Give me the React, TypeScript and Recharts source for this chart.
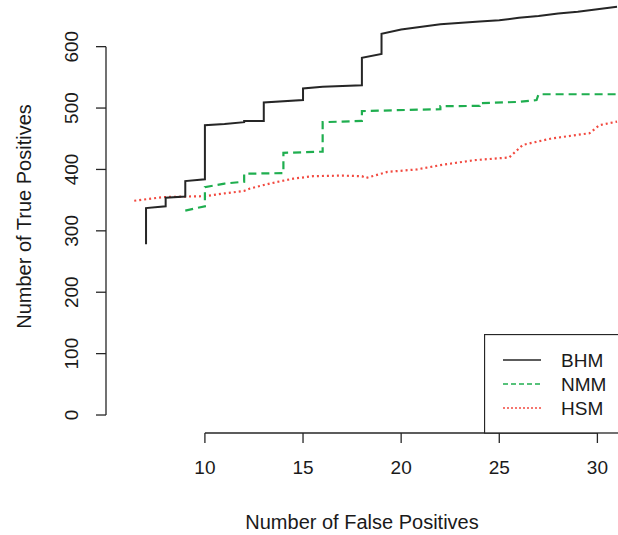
import React from 'react';
import {
  LineChart,
  Line,
  XAxis,
  YAxis,
  ReferenceLine,
  Legend,
  Label,
} from 'recharts';

// false positives (x) / true positives (y)
const bhmX = [7, 7, 8, 8, 9, 9, 10, 10, 11, 12, 12, 13, 13, 15, 15, 16, 18, 18, 19, 19, 20, 22, 24, 25, 26, 27, 28, 29, 30, 31];
const bhmY = [278, 337, 340, 354, 356, 381, 384, 472, 474, 477, 479, 479, 509, 513, 532, 534.5, 537, 582, 588, 621, 628, 636.5, 641, 643, 647, 650, 654, 657, 661, 665];

const nmmX = [9, 10, 10, 11, 12, 12, 14, 14, 16, 16, 17, 18, 18, 21, 22, 22, 24, 24, 26, 26.9, 27, 31];
const nmmY = [333, 340, 371, 377, 380, 393, 394, 427, 429, 477, 478, 479, 495, 497.5, 498, 503, 503.5, 508, 510, 513, 522.5, 522.5];

const hsmX = [6.4, 7.9, 10, 11, 12, 12.3, 13.3, 14.5, 15.5, 17, 18, 18.2, 19.3, 20.8, 22, 23.7, 25.5, 26.2, 27.6, 28.9, 29.6, 30.1, 31];
const hsmY = [349, 355, 356.5, 361, 365, 369, 377, 385, 389, 390, 389, 386, 396, 400, 407, 415, 419.5, 440, 450, 456, 459, 472, 478];

const xTicks = [10, 15, 20, 25, 30];
const yTicks = [0, 100, 200, 300, 400, 500, 600];

const seriesNames = ['BHM', 'NMM', 'HSM'];

const zip = (xs: number[], ys: number[]) => xs.map((x, i) => ({ x, y: ys[i] }));

const bhmData = zip(bhmX, bhmY);
const nmmData = zip(nmmX, nmmY);
const hsmData = zip(hsmX, hsmY);

const FONT = '"Liberation Sans", Arial, sans-serif';
const TEXT = '#1a1a1a';
const BLACK = '#262626';
const GREEN = '#1fae4f';
const RED = '#f24a40';

const X_MIN = 4.96;
const Y_MIN = -29.3;

const YTick = (props: any) => {
  const { y, payload } = props;
  return (
    <text
      x={71}
      y={y}
      dy="0.36em"
      transform={`rotate(-90, 71, ${y})`}
      textAnchor="middle"
      fontSize={19}
      fontFamily={FONT}
      fill={TEXT}
    >
      {payload.value}
    </text>
  );
};

const LegendBox = () => {
  const rows = [
    { color: BLACK, dash: undefined, y: 26 },
    { color: GREEN, dash: '5 3', y: 50 },
    { color: RED, dash: '2 2', y: 74 },
  ];
  return (
    <svg width={160} height={100} style={{ display: 'block' }}>
      <rect x={0.5} y={0.5} width={158} height={98.5} fill="#fff" stroke={BLACK} strokeWidth={1.3} />
      {rows.map((r, i) => (
        <g key={seriesNames[i]}>
          <line x1={19} x2={57} y1={r.y} y2={r.y} stroke={r.color} strokeWidth={1.6} strokeDasharray={r.dash} />
          <text x={77} y={r.y} dy="0.36em" fontSize={19} fontFamily={FONT} fill={TEXT}>
            {seriesNames[i]}
          </text>
        </g>
      ))}
    </svg>
  );
};

export default function App() {
  return (
    <div
      style={{
        position: 'absolute',
        left: 0,
        top: 0,
        width: 618,
        height: 535,
        overflow: 'hidden',
        background: '#fff',
      }}
    >
      <LineChart width={618} height={535} margin={{ top: 0, right: 0, left: 0, bottom: 0 }}>
        <XAxis
          type="number"
          dataKey="x"
          domain={[X_MIN, 31.05]}
          ticks={xTicks}
          interval={0}
          allowDataOverflow
          axisLine={false}
          tickLine={{ stroke: BLACK, strokeWidth: 1.3 }}
          tickSize={10}
          tickMargin={18}
          height={102}
          tick={{ fontSize: 19, fill: TEXT, fontFamily: FONT }}
        >
          <Label
            value="Number of False Positives"
            position="insideBottom"
            offset={6}
            fontSize={20}
            fontFamily={FONT}
            fill={TEXT}
          />
        </XAxis>
        <YAxis
          type="number"
          domain={[Y_MIN, 676]}
          ticks={yTicks}
          interval={0}
          allowDataOverflow
          axisLine={false}
          tickLine={{ stroke: BLACK, strokeWidth: 1.3 }}
          tickSize={10}
          width={106}
          tick={<YTick />}
        >
          <Label
            value="Number of True Positives"
            position="center"
            angle={-90}
            dx={-29}
            fontSize={20}
            fontFamily={FONT}
            fill={TEXT}
          />
        </YAxis>
        <ReferenceLine
          segment={[{ x: 10, y: Y_MIN }, { x: 30, y: Y_MIN }]}
          stroke={BLACK}
          strokeWidth={1.3}
          ifOverflow="visible"
        />
        <ReferenceLine
          segment={[{ x: X_MIN, y: 0 }, { x: X_MIN, y: 600 }]}
          stroke={BLACK}
          strokeWidth={1.3}
          ifOverflow="visible"
        />
        <Line
          data={hsmData}
          dataKey="y"
          name="HSM"
          type="linear"
          stroke={RED}
          strokeWidth={2.2}
          strokeDasharray="2 3"
          dot={false}
          isAnimationActive={false}
        />
        <Line
          data={nmmData}
          dataKey="y"
          name="NMM"
          type="linear"
          stroke={GREEN}
          strokeWidth={2.2}
          strokeDasharray="8 5"
          dot={false}
          isAnimationActive={false}
        />
        <Line
          data={bhmData}
          dataKey="y"
          name="BHM"
          type="linear"
          stroke={BLACK}
          strokeWidth={2}
          dot={false}
          isAnimationActive={false}
        />
        <Legend
          layout="vertical"
          verticalAlign="middle"
          align="center"
          wrapperStyle={{ position: 'absolute', left: 484, top: 334, width: 160, height: 100 }}
          content={() => <LegendBox />}
        />
      </LineChart>
    </div>
  );
}
